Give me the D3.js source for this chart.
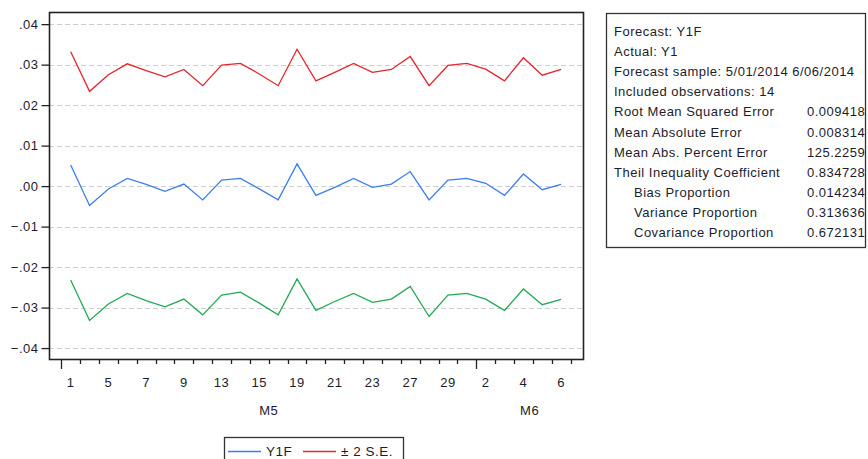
<!DOCTYPE html>
<meta charset="utf-8">
<script src="https://cdn.jsdelivr.net/npm/d3@7"></script>
<style>
  body { margin: 0; background: #fff; }
  text { font-family: "Liberation Sans", Arial, sans-serif; font-size: 13px; letter-spacing: 0.5px; fill: #1c1c2c; }
</style>
<body>
<div id="chart"></div>

<script>
  // business days 5/01/2014 .. 6/06/2014
  var days = [1, 2, 5, 6, 7, 8, 9, 12, 13, 14, 15, 16, 19, 20, 21, 22, 23, 26, 27, 28, 29, 30,
              2, 3, 4, 5, 6];
  var months = [{label: "M5", from: 0, to: 21}, {label: "M6", from: 22, to: 26}];

  var y1f = [0.0052, -0.0048, -0.0007, 0.0019, 0.0004, -0.0013, 0.0005, -0.0034, 0.0015, 0.0019,
             -0.0007, -0.0034, 0.0055, -0.0023, -0.0003, 0.0019, -0.0003, 0.0005, 0.0036, -0.0034,
             0.0015, 0.0019, 0.0007, -0.0023, 0.0030, -0.0009, 0.0004];
  var upper = [0.0332, 0.0234, 0.0275, 0.0302, 0.0285, 0.0270, 0.0288, 0.0248, 0.0299, 0.0303,
               0.0277, 0.0248, 0.0338, 0.0260, 0.0281, 0.0303, 0.0281, 0.0288, 0.0320, 0.0248,
               0.0298, 0.0303, 0.0289, 0.0260, 0.0317, 0.0274, 0.0288];
  var lower = [-0.0232, -0.0332, -0.0291, -0.0265, -0.0283, -0.0298, -0.0279, -0.0318, -0.0269, -0.0262,
               -0.0289, -0.0318, -0.0229, -0.0307, -0.0285, -0.0265, -0.0287, -0.0279, -0.0248, -0.0322,
               -0.0269, -0.0265, -0.0279, -0.0307, -0.0254, -0.0293, -0.0280];

  var yTicks = [0.04, 0.03, 0.02, 0.01, 0, -0.01, -0.02, -0.03, -0.04];

  var statNames = ["Root Mean Squared Error", "Mean Absolute Error", "Mean Abs. Percent Error",
                   "Theil Inequality Coefficient", "Bias Proportion", "Variance Proportion",
                   "Covariance Proportion"];
  var statValues = ["0.009418", "0.008314", "125.2259", "0.834728", "0.014234", "0.313636", "0.672131"];
  var statIndent = [0, 0, 0, 0, 1, 1, 1];
  var header = ["Forecast: Y1F", "Actual: Y1", "Forecast sample: 5/01/2014 6/06/2014",
                "Included observations: 14"];

  var W = 868, H = 459;
  var plot = {left: 49, right: 583, top: 12, bottom: 359};

  var svg = d3.select("#chart").append("svg")
      .attr("width", W).attr("height", H);

  var x = d3.scaleLinear().domain([-1.15, 27.16]).range([plot.left, plot.right]);
  var y = d3.scaleLinear().domain([-0.0427, 0.0430]).range([plot.bottom, plot.top]);

  // grid
  svg.selectAll("line.grid").data(yTicks).enter().append("line")
    .attr("class", "grid")
    .attr("x1", plot.left).attr("x2", plot.right)
    .attr("y1", function(d) { return Math.round(y(d)) + 0.5; })
    .attr("y2", function(d) { return Math.round(y(d)) + 0.5; })
    .style("stroke", "#cfcfcf")
    .style("stroke-dasharray", "5,3");

  // lines
  var line = d3.line()
    .x(function(d, i) { return x(i); })
    .y(function(d) { return y(d); });

  var series = [{vals: upper, color: "#e3262c"},
                {vals: lower, color: "#22aa55"},
                {vals: y1f, color: "#3a7eee"}];
  svg.selectAll("path.series").data(series).enter().append("path")
    .attr("class", "series")
    .attr("d", function(d) { return line(d.vals); })
    .style("fill", "none")
    .style("stroke", function(d) { return d.color; })
    .style("stroke-width", 1.3);

  // frame
  svg.append("rect")
    .attr("x", plot.left + 0.5).attr("y", plot.top + 0.5)
    .attr("width", plot.right - plot.left).attr("height", plot.bottom - plot.top)
    .style("fill", "none").style("stroke", "#222").style("stroke-width", 1.6);

  // y axis
  var yAxis = d3.axisLeft(y).tickValues(yTicks).tickSize(8).tickPadding(3)
    .tickFormat(function(d) { return d3.format(".2f")(d).replace("0.", "."); });
  var gy = svg.append("g").attr("transform", "translate(" + (plot.left + 0.5) + ",0)").call(yAxis);
  gy.select(".domain").remove();
  gy.selectAll(".tick line").style("stroke", "#222").style("stroke-width", 1.3);
  gy.selectAll("text").attr("font-family", null).attr("font-size", null)
    .style("fill", "#1c1c2c");

  // x ticks between observations, longer at month starts
  var bounds = d3.range(-0.5, days.length, 1);
  svg.selectAll("line.xtick").data(bounds).enter().append("line")
    .attr("class", "xtick")
    .attr("x1", function(d) { return Math.round(x(d)) + 0.5; })
    .attr("x2", function(d) { return Math.round(x(d)) + 0.5; })
    .attr("y1", plot.bottom)
    .attr("y2", function(d) {
      var major = months.some(function(m) { return m.from - 0.5 === d; });
      return plot.bottom + (major ? 10 : 5);
    })
    .style("stroke", "#222").style("stroke-width", 1.3);

  // every second day gets a label
  svg.selectAll("text.day").data(d3.range(0, days.length, 2)).enter().append("text")
    .attr("class", "day")
    .attr("x", function(i) { return x(i); })
    .attr("y", 387)
    .attr("text-anchor", "middle")
    .text(function(i) { return days[i]; });

  svg.selectAll("text.month").data(months).enter().append("text")
    .attr("class", "month")
    .attr("x", function(d, i) {
      var a = x(d.from - 0.5);
      var b = i === months.length - 1 ? plot.right : x(d.to + 0.5);
      return (a + b) / 2;
    })
    .attr("y", 415)
    .attr("text-anchor", "middle")
    .text(function(d) { return d.label; });

  // legend (box runs off the bottom edge, as in the original)
  var lg = svg.append("g");
  lg.append("rect")
    .attr("x", 224.5).attr("y", 437.5).attr("width", 179).attr("height", 30)
    .style("fill", "#fff").style("stroke", "#333").style("stroke-width", 1.3);
  var legendItems = [{label: "Y1F", color: "#3a7eee", x: 228},
                     {label: "\u00b1 2 S.E.", color: "#e3262c", x: 303}];
  legendItems.forEach(function(d) {
    lg.append("line").attr("x1", d.x).attr("x2", d.x + 33).attr("y1", 451.5).attr("y2", 451.5)
      .style("stroke", d.color).style("stroke-width", 1.3);
    lg.append("text").attr("x", d.x + 38).attr("y", 455.5).style("font-size", "13.5px").text(d.label);
  });

  // statistics box
  var sb = svg.append("g");
  sb.append("rect")
    .attr("x", 606.5).attr("y", 13.5).attr("width", 259).attr("height", 234)
    .style("fill", "#fff").style("stroke", "#333").style("stroke-width", 1.3);
  var rowY = function(i) { return 36 + i * 20.1; };
  header.forEach(function(t, i) {
    sb.append("text").attr("x", 614).attr("y", rowY(i)).text(t);
  });
  statNames.forEach(function(t, i) {
    sb.append("text").attr("x", 614 + statIndent[i] * 20).attr("y", rowY(i + 4)).text(t);
    sb.append("text").attr("x", 807).attr("y", rowY(i + 4)).text(statValues[i]);
  });
</script>
</body>
